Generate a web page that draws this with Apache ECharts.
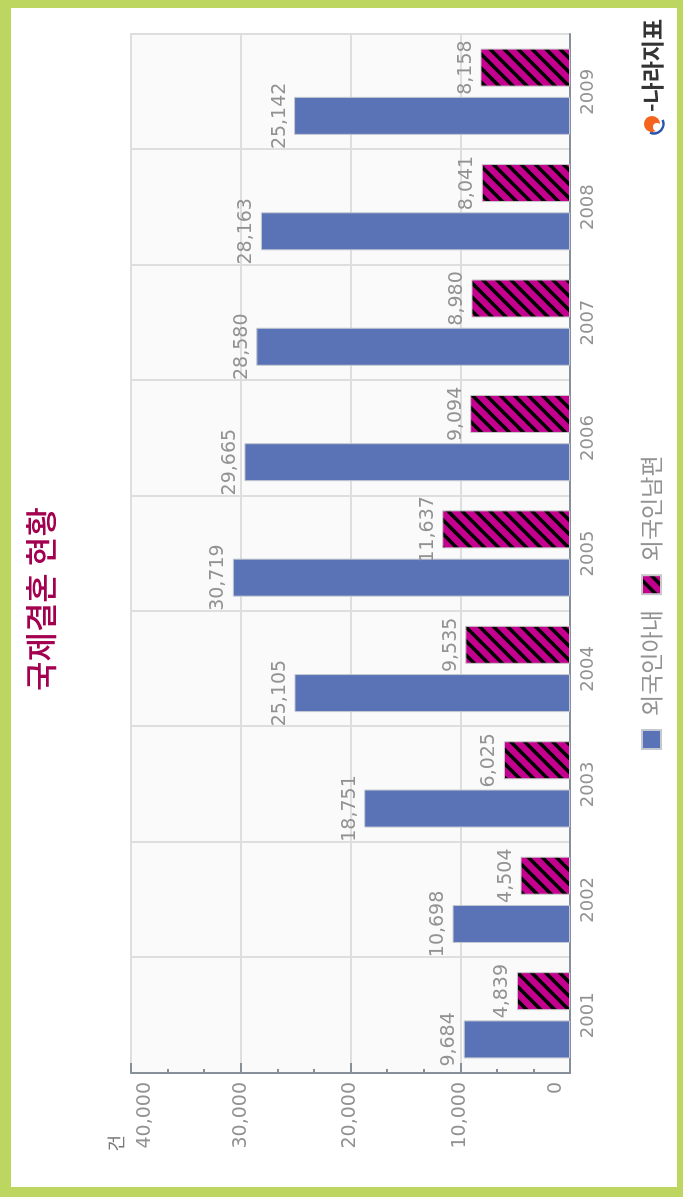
<!DOCTYPE html>
<html lang="ko">
<head>
<meta charset="UTF-8">
<title>국제결혼 현황</title>
<script src="https://cdn.jsdelivr.net/npm/echarts@6/dist/echarts.min.js"></script>
<style>
    html, body { margin: 0; padding: 0; background: #fff; overflow: hidden; }
    /* the reference is a chart turned on its side */
    #main { position: absolute; left: 0; top: 0; width: 1197px; height: 683px; transform-origin: 0 0; transform: translateY(1197px) rotate(-90deg); }
</style>
</head>
<body>
<div id="main"></div>
<script>
    const years = ['2001', '2002', '2003', '2004', '2005', '2006', '2007', '2008', '2009'];
    const wives = [9684, 10698, 18751, 25105, 30719, 29665, 28580, 28163, 25142];
    const husbands = [4839, 4504, 6025, 9535, 11637, 9094, 8980, 8041, 8158];

    const font = '"DejaVu Sans", sans-serif';
    const krFont = '"Noto Sans CJK KR", sans-serif';
    const grey = '#929292';
    const axisGrey = '#87909a';
    const gridGrey = '#dedede';

    // magenta tile with black diagonal stripes
    function stripes() {
        let c = document.createElement('canvas');
        c.width = 14;
        c.height = 14;
        let ctx = c.getContext('2d');
        ctx.fillStyle = '#c4008f';
        ctx.fillRect(0, 0, 14, 14);
        ctx.strokeStyle = '#000';
        ctx.lineWidth = 3.6;
        [[-7, 7, 7, -7], [0, 14, 14, 0], [7, 21, 21, 7]].forEach(function (l) {
            ctx.beginPath();
            ctx.moveTo(l[0], l[1]);
            ctx.lineTo(l[2], l[3]);
            ctx.stroke();
        });
        return c;
    }

    let barLabel = {
        show: true,
        position: 'top',
        distance: 5,
        color: grey,
        fontFamily: font,
        fontSize: 19,
        formatter: function (p) { return p.value.toLocaleString('en-US'); }
    };

    let myChart = echarts.init(document.getElementById('main'), null, { renderer: 'canvas' });
    myChart.setOption({
        animation: false,
        backgroundColor: '#bdd660',
        graphic: [
            { type: 'rect', z: -10, shape: { x: 10, y: 11, width: 1179, height: 666 }, style: { fill: '#fff' } },
            { type: 'text', left: 1085, top: 641, style: { text: '-나라지표', font: 'bold 23px ' + krFont, fill: '#333' } },
            { type: 'circle', shape: { cx: 1073, cy: 652, r: 8 }, style: { fill: '#f4641e' } },
            { type: 'circle', shape: { cx: 1070, cy: 657, r: 4 }, style: { fill: '#fff' } },
            { type: 'arc', shape: { cx: 1073, cy: 654, r: 9.5, startAngle: 1.13, endAngle: 3.58 }, style: { stroke: '#2a56b0', lineWidth: 2.5, fill: 'none' } }
        ],
        title: {
            text: '국제결혼 현황',
            left: 506,
            top: 25,
            padding: 0,
            textStyle: { color: '#a3004f', fontFamily: krFont, fontSize: 32, fontWeight: 500 }
        },
        legend: {
            left: 447,
            top: 640,
            padding: 0,
            icon: 'rect',
            itemWidth: 19,
            itemHeight: 19,
            itemGap: 15,
            textStyle: { color: grey, fontFamily: krFont, fontSize: 23, padding: [0, 0, 0, 9] },
            data: ['외국인아내', '외국인남편']
        },
        grid: {
            left: 124,
            right: 34,
            top: 131,
            bottom: 113,
            show: true,
            backgroundColor: '#fafafa',
            borderColor: gridGrey,
            borderWidth: 2
        },
        xAxis: {
            type: 'category',
            data: years,
            axisLine: { lineStyle: { color: axisGrey, width: 2 } },
            axisTick: { show: false },
            axisLabel: { color: grey, fontFamily: font, fontSize: 18, margin: 9 },
            splitLine: { show: true, lineStyle: { color: gridGrey, width: 2 } }
        },
        yAxis: {
            type: 'value',
            min: 0,
            max: 40000,
            interval: 10000,
            name: '건',
            nameLocation: 'end',
            nameGap: 0,
            nameTextStyle: { color: '#777', fontFamily: krFont, fontSize: 18, align: 'right', verticalAlign: 'top', padding: [-24, 62, 0, 0] },
            axisLine: { show: true, lineStyle: { color: axisGrey, width: 2 } },
            axisTick: { show: true, inside: true, length: 10, lineStyle: { color: axisGrey, width: 2 } },
            minorTick: { show: true, splitNumber: 3, length: 4, lineStyle: { color: axisGrey, width: 2 } },
            axisLabel: {
                color: grey,
                fontFamily: font,
                fontSize: 19,
                margin: 9,
                lineHeight: 28,
                verticalAlignMinLabel: 'bottom',
                verticalAlignMaxLabel: 'top',
                formatter: function (v) { return v.toLocaleString('en-US'); }
            },
            splitLine: { lineStyle: { color: gridGrey, width: 2 } }
        },
        series: [{
            name: '외국인아내',
            type: 'bar',
            data: wives,
            barWidth: 38,
            barGap: '27%',
            itemStyle: { color: '#5a72b6', borderColor: '#c4c8d0', borderWidth: 1 },
            label: barLabel
        }, {
            name: '외국인남편',
            type: 'bar',
            data: husbands,
            barWidth: 38,
            itemStyle: { color: { image: stripes(), repeat: 'repeat' }, borderColor: '#c8c8c8', borderWidth: 1 },
            label: barLabel
        }]
    });
</script>
</body>
</html>
